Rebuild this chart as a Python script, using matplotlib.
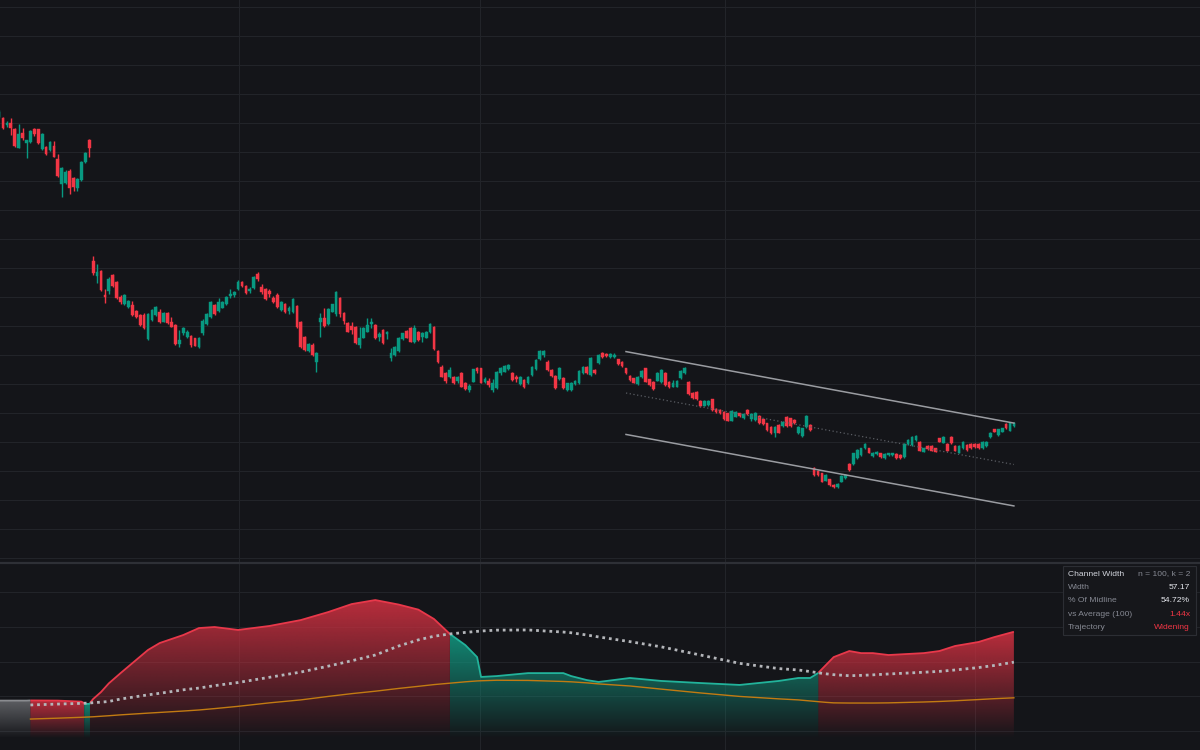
import numpy as np
import matplotlib
matplotlib.use("Agg")
import matplotlib.pyplot as plt
from matplotlib.patches import PathPatch, Rectangle
from matplotlib.lines import Line2D
from matplotlib.colors import to_rgb

# ---------------- data ----------------
opens = [344.1, 343.8, 338.7, 339.9, 336.0, 323.1, 333.0, 326.1, 326.8, 336.3,
         335.8, 322.2, 323.8, 321.5, 324.5, 315.3, 297.8, 298.5, 307.2, 302.0,
         295.5, 300.8, 313.4, 328.4, 245.1, 234.6, 238.0, 221.4, 224.4, 235.3,
         230.6, 219.9, 215.0, 213.0, 214.5, 210.4, 207.6, 207.6, 190.9, 204.2,
         207.6, 209.9, 203.0, 209.2, 203.0, 200.8, 187.6, 195.4, 192.3, 193.2,
         191.6, 185.8, 195.0, 201.2, 206.5, 214.5, 210.4, 212.7, 215.0, 220.8,
         221.4, 225.6, 230.6, 227.9, 224.2, 226.1, 235.7, 227.2, 225.6, 224.2,
         219.6, 221.4, 211.1, 215.0, 210.4, 209.5, 214.1, 202.6, 192.7, 182.8,
         187.0, 175.4, 203.0, 205.4, 201.2, 209.9, 208.1, 219.6, 208.8, 201.9,
         200.3, 199.6, 187.0, 192.0, 196.1, 201.2, 200.8, 192.7, 197.3, 194.3,
         178.2, 180.05, 182.8, 191.1, 196.6, 198.9, 188.8, 196.1, 192.7, 192.0,
         196.1, 199.6, 182.8, 172.0, 167.4, 164.7, 164.7, 162.3, 167.4, 160.5,
         155.9, 161.6, 170.9, 170.9, 161.6, 162.3, 155.9, 157.1, 167.4, 168.5,
         170.4, 167.4, 165.1, 160.0, 162.8, 160.5, 166.3, 170.2, 177.1, 180.05,
         175.4, 169.7, 165.6, 163.5, 164.2, 155.9, 155.9, 160.0, 160.9, 167.4,
         172.0, 166.3, 169.7, 174.5, 181.6, 180.7, 178.5, 178.7, 177.1, 175.4,
         170.9, 165.6, 164.0, 160.0, 164.7, 170.9, 163.3, 161.6, 162.3, 161.4,
         167.8, 161.6, 158.2, 158.2, 164.0, 167.4, 161.6, 154.0, 154.7, 148.5,
         145.1, 145.5, 149.5, 142.6, 142.1, 140.9, 139.8, 134.7, 137.5, 139.8,
         136.4, 142.1, 135.7, 135.2, 138.0, 135.7, 132.9, 130.2, 126.5, 131.8,
         131.1, 137.5, 136.4, 135.2, 126.0, 124.2, 130.2, 131.8, 101.9, 100.2,
         98.4, 93.3, 94.3, 90.35, 88.8, 92.6, 95.0, 104.8, 104.8, 108.8,
         111.05, 115.7, 115.7, 110.4, 111.7, 112.2, 108.8, 110.8, 110.9, 111.7,
         111.05, 109.5, 118.6, 118.0, 121.4, 120.2, 113.3, 117.3, 117.3, 115.7,
         122.6, 119.5, 118.6, 123.3, 117.3, 112.6, 115.7, 117.95, 118.6, 118.6,
         118.6, 115.7, 117.3, 123.3, 128.8, 124.9, 127.1, 132.4, 127.8, 131.06]
highs = [349.1, 344.3, 341.5, 343.4, 336.5, 339.2, 336.9, 328.6, 335.0, 337.0,
         336.3, 333.0, 324.3, 327.6, 327.7, 318.7, 309.8, 307.7, 308.4, 302.9,
         302.2, 313.9, 320.1, 328.8, 248.4, 242.8, 238.7, 225.6, 233.7, 235.8,
         231.2, 221.4, 222.0, 218.0, 217.5, 211.1, 208.3, 208.8, 209.0, 211.8,
         213.9, 211.6, 209.8, 209.8, 206.5, 201.3, 197.3, 199.2, 197.3, 193.9,
         192.1, 192.3, 204.9, 208.8, 217.5, 215.2, 219.6, 217.3, 220.9, 225.6,
         224.2, 231.8, 231.1, 228.4, 227.2, 234.8, 237.1, 228.8, 226.3, 225.6,
         221.0, 222.6, 217.0, 215.6, 214.1, 219.2, 214.6, 203.2, 193.3, 188.0,
         188.1, 181.8, 208.8, 212.3, 212.5, 215.2, 224.2, 220.3, 209.5, 202.6,
         203.0, 200.2, 199.6, 199.5, 205.8, 205.8, 201.5, 195.7, 198.0, 196.6,
         184.7, 186.3, 192.5, 195.3, 197.3, 199.6, 200.8, 196.6, 196.1, 196.6,
         201.9, 200.3, 183.3, 173.2, 168.5, 171.6, 165.3, 165.6, 168.0, 161.1,
         160.0, 170.7, 171.6, 171.4, 165.1, 164.0, 163.3, 169.1, 171.6, 173.1,
         174.0, 168.0, 166.3, 165.3, 163.4, 165.3, 172.2, 177.2, 183.5, 183.5,
         176.6, 170.2, 166.1, 171.6, 164.8, 161.0, 161.5, 163.0, 169.8, 172.2,
         172.6, 178.4, 170.5, 180.7, 182.3, 181.4, 181.4, 181.2, 177.6, 176.1,
         171.4, 166.3, 164.5, 165.6, 169.8, 171.4, 163.8, 162.1, 168.0, 170.5,
         168.4, 162.1, 162.8, 162.8, 169.8, 171.6, 162.1, 154.5, 155.2, 149.0,
         148.8, 149.1, 150.0, 143.3, 142.6, 141.4, 140.3, 142.1, 141.4, 140.3,
         139.8, 142.6, 140.2, 140.7, 138.5, 136.2, 133.4, 130.7, 130.7, 132.3,
         134.5, 138.0, 136.9, 135.7, 130.7, 130.0, 138.5, 132.2, 103.0, 100.7,
         98.9, 97.8, 94.8, 91.0, 91.5, 97.1, 97.8, 105.3, 112.7, 115.0,
         116.2, 119.4, 116.2, 113.1, 113.8, 112.7, 112.2, 112.7, 112.7, 112.2,
         111.6, 119.1, 121.9, 124.2, 124.7, 120.7, 116.2, 117.8, 117.8, 116.2,
         123.1, 123.8, 119.1, 124.3, 117.8, 117.8, 120.7, 118.5, 119.1, 119.1,
         119.1, 120.7, 120.7, 126.9, 129.3, 129.3, 130.0, 132.9, 133.8, 133.8]
lows = [343.6, 336.0, 337.4, 331.8, 323.8, 322.9, 328.4, 315.8, 326.3, 331.5,
        325.5, 321.5, 318.0, 321.0, 316.7, 303.1, 289.3, 298.0, 290.9, 293.2,
        293.2, 300.1, 312.5, 316.9, 235.3, 229.9, 224.4, 216.1, 222.1, 227.2,
        218.6, 215.2, 214.5, 212.5, 207.1, 205.4, 200.1, 197.8, 190.4, 203.5,
        206.9, 202.3, 202.5, 201.4, 199.2, 187.1, 185.8, 193.9, 191.6, 185.8,
        186.0, 185.2, 193.9, 200.6, 205.9, 207.4, 209.8, 212.3, 214.5, 219.2,
        219.9, 224.9, 227.2, 222.0, 222.6, 225.5, 231.1, 221.9, 218.1, 219.9,
        215.7, 212.7, 210.5, 209.3, 208.1, 209.0, 198.9, 185.2, 183.0, 182.3,
        179.6, 168.5, 192.7, 199.6, 200.6, 209.5, 207.2, 206.5, 201.2, 195.7,
        194.3, 187.5, 185.1, 191.5, 195.9, 198.5, 191.4, 189.7, 187.5, 191.1,
        175.9, 179.5, 182.3, 190.4, 191.6, 188.8, 188.1, 189.7, 188.8, 191.5,
        195.0, 183.7, 174.8, 164.7, 160.9, 164.0, 160.0, 160.5, 157.7, 155.9,
        154.7, 161.1, 167.4, 160.4, 160.5, 158.2, 154.7, 156.6, 166.3, 168.0,
        169.6, 162.3, 161.6, 159.4, 157.1, 160.0, 165.8, 169.7, 176.6, 178.9,
        169.2, 165.1, 156.8, 163.0, 156.6, 155.4, 155.5, 159.5, 160.3, 166.8,
        166.8, 165.8, 166.8, 174.0, 177.8, 178.5, 178.0, 177.8, 173.3, 172.0,
        166.8, 162.3, 160.4, 159.5, 164.2, 161.1, 158.9, 155.9, 161.8, 160.8,
        158.9, 157.3, 157.8, 157.7, 163.5, 166.8, 152.6, 149.7, 149.0, 144.4,
        144.6, 145.0, 141.6, 139.8, 139.3, 135.2, 134.2, 134.2, 137.0, 137.5,
        135.9, 138.8, 134.7, 134.7, 132.4, 131.9, 127.8, 125.5, 123.6, 125.9,
        130.6, 130.6, 130.6, 132.4, 125.5, 123.7, 129.7, 127.8, 96.6, 96.7,
        92.1, 92.8, 89.9, 88.1, 88.3, 92.1, 94.5, 100.2, 104.3, 108.3,
        110.6, 115.2, 112.1, 109.9, 111.2, 109.0, 108.3, 110.3, 110.4, 108.3,
        108.3, 109.0, 118.1, 117.5, 120.9, 113.5, 112.8, 114.5, 113.5, 112.8,
        119.7, 119.0, 113.5, 118.6, 113.5, 112.1, 115.2, 114.0, 115.2, 115.9,
        115.2, 115.2, 116.8, 122.8, 126.6, 124.4, 126.6, 129.0, 127.3, 130.6]
closes = [347.9, 336.5, 340.3, 336.5, 324.5, 332.3, 329.6, 328.4, 334.6, 332.5,
          326.1, 332.3, 318.5, 327.2, 316.9, 303.6, 309.3, 306.5, 295.1, 296.2,
          301.5, 313.4, 319.2, 322.7, 236.4, 237.5, 224.9, 220.1, 232.3, 227.7,
          219.2, 216.8, 221.4, 217.5, 207.6, 206.5, 200.8, 198.5, 208.1, 211.1,
          213.0, 203.0, 209.2, 201.9, 199.6, 187.6, 190.4, 198.5, 196.1, 187.0,
          186.5, 191.6, 203.7, 208.1, 216.8, 208.1, 216.8, 216.8, 220.3, 221.9,
          223.7, 230.6, 227.9, 222.6, 225.6, 234.1, 232.5, 223.3, 218.7, 221.9,
          216.8, 213.4, 216.4, 209.9, 212.7, 218.5, 199.6, 185.8, 183.5, 187.4,
          180.05, 181.2, 205.8, 200.3, 211.8, 215.0, 223.7, 208.1, 203.5, 196.1,
          197.3, 188.1, 191.6, 198.9, 200.8, 202.6, 192.0, 194.3, 188.1, 196.1,
          181.2, 185.8, 192.0, 195.0, 192.0, 189.2, 198.9, 190.4, 195.0, 196.1,
          201.2, 184.2, 175.4, 165.1, 162.3, 169.7, 160.5, 164.7, 158.2, 156.4,
          158.7, 170.2, 169.2, 160.9, 163.3, 159.4, 160.9, 168.5, 170.9, 172.5,
          173.2, 162.8, 163.3, 164.7, 158.2, 164.7, 171.6, 176.6, 183.0, 183.0,
          169.7, 165.6, 157.3, 171.1, 157.3, 160.5, 161.0, 162.3, 169.2, 171.6,
          167.4, 177.8, 167.4, 180.05, 178.9, 179.4, 180.7, 180.3, 173.8, 172.5,
          167.4, 162.8, 160.9, 165.1, 169.2, 161.6, 159.4, 156.4, 167.4, 169.7,
          159.4, 157.8, 160.9, 162.3, 169.2, 170.9, 153.1, 150.2, 149.5, 144.9,
          148.3, 148.6, 142.1, 141.0, 139.8, 135.7, 134.7, 141.6, 140.9, 138.0,
          139.3, 139.3, 139.3, 140.2, 132.9, 132.4, 128.3, 126.0, 130.2, 126.4,
          134.0, 131.1, 131.1, 132.9, 130.2, 129.5, 138.0, 128.3, 97.25, 97.25,
          92.6, 97.25, 90.35, 89.2, 91.0, 96.6, 97.25, 100.7, 112.2, 114.5,
          115.7, 118.6, 112.6, 112.6, 113.3, 109.5, 111.7, 112.2, 112.2, 108.8,
          108.8, 118.6, 121.4, 123.7, 124.2, 114.0, 115.7, 115.0, 114.0, 113.3,
          120.2, 123.3, 114.0, 119.1, 114.0, 117.3, 120.2, 114.5, 115.7, 116.4,
          115.7, 120.2, 120.2, 126.4, 127.1, 128.8, 129.5, 129.5, 133.3, 133.3]

# regression channel over the last 100 bars (n = 100, k = 2)
channel_bars = [160, 259]
channel_mid = [153.8, 104.48]
channel_width = 57.17

# quarter boundaries (vertical grid)
quarter_bars = [61.2, 122.7, 185.3, 249.1]

# channel-width indicator (lower pane), sampled at bar indices
ind_bars = [0, 7, 8, 15, 21, 22, 23, 24, 26, 28, 31, 38, 41, 47, 51, 55, 61, 69,
            77, 84, 90, 96, 102, 107, 111, 115, 119, 122, 123, 127, 135, 144,
            146, 150, 153, 161, 169, 179, 189, 199, 204, 207, 209, 211, 213,
            217, 220, 223, 227, 236, 240, 244, 250, 254, 259]
width_vals = [17.6, 17.6, 17.7, 17.6, 17.0, 15.7, 15.7, 18.5, 22.5, 27.5, 33.4,
              46.7, 50.7, 55.3, 59.3, 59.9, 58.2, 60.5, 63.9, 68.5, 73.1, 75.4,
              72.8, 69.9, 64.5, 56.0, 49.5, 42.6, 31.2, 31.7, 33.4, 33.4, 31.7,
              29.4, 28.3, 30.6, 28.9, 27.7, 26.6, 28.9, 30.6, 30.6, 33.4, 38.0,
              42.6, 46.1, 44.9, 44.9, 43.8, 44.9, 46.1, 49.0, 51.3, 54.1, 57.17]
avg_vals = [np.nan, np.nan, 15.1, 15.6, 16.0, 16.1, 16.2, 16.4, 16.7, 17.1, 18.5,
            20.9, 21.8, 23.8, 24.8, 26.2, 28.0, 31.0, 34.0, 37.4, 40.5, 43.8,
            49.0, 52.5, 54.6, 55.9, 56.8, 57.4, 57.6, 58.1, 58.2, 57.0, 56.6,
            55.3, 54.2, 51.5, 48.5, 43.8, 39.0, 36.0, 35.2, 34.3, 33.6, 33.0,
            32.5, 31.9, 32.1, 32.4, 32.9, 33.9, 34.4, 35.2, 36.6, 37.8, 39.7]
floor_vals = [np.nan, np.nan, 7.0, 7.5, 8.0, 8.1, 8.2, 8.3, 8.6, 8.9, 9.4, 10.4,
              10.8, 11.6, 12.2, 13.0, 14.3, 16.3, 18.0, 20.0, 21.6, 23.0, 24.6,
              25.8, 26.8, 27.6, 28.4, 28.9, 29.0, 29.3, 29.2, 28.6, 28.4, 27.8,
              27.2, 26.0, 24.2, 22.0, 20.0, 18.6, 18.0, 17.4, 17.0, 16.6, 16.3,
              16.2, 16.2, 16.2, 16.3, 16.8, 17.1, 17.5, 18.2, 18.7, 19.2]

table_rows = [("Channel Width", "n = 100, k = 2"),
              ("Width", "57.17"),
              ("% Of Midline", "54.72%"),
              ("vs Average (100)", "1.44x"),
              ("Trajectory", "Widening")]

# ---------------- style ----------------
BG = "#141519"
GRID = "#222429"
UP = "#089981"
DOWN = "#f23645"
FONT = ["Liberation Sans", "DejaVu Sans"]

W, H = 1200, 750
fig = plt.figure(figsize=(12, 7.5), dpi=100, facecolor=BG)
ax = fig.add_axes([0, 1 - 562 / H, 1, 562 / H], facecolor=BG)
ax2 = fig.add_axes([0, 0, 1, 187 / H], facecolor=BG, sharex=ax)

for a in (ax, ax2):
    for s in a.spines.values():
        s.set_visible(False)
    a.tick_params(length=0, labelleft=False, labelbottom=False)
    a.set_xticks(quarter_bars)
    a.grid(True, color=GRID, lw=0.8)
    a.set_axisbelow(True)

# ---------------- candles ----------------
o = np.array(opens); h = np.array(highs); l = np.array(lows); c = np.array(closes)
n = len(o)
xb = np.arange(n)
cols = np.where(c >= o, UP, DOWN)
ax.vlines(xb, l, h, colors=cols, lw=1.0, zorder=3)
bottom = np.minimum(o, c)
height = np.maximum(np.abs(c - o), 0.9)
ax.bar(xb, height, bottom=bottom, width=0.7, color=cols, edgecolor=cols,
       linewidth=0.3, zorder=4)

# regression channel
cm = np.array(channel_mid)
half = channel_width / 2
ax.plot(channel_bars, cm + half, color="#9a9ca1", lw=1.1, zorder=5)
ax.plot(channel_bars, cm - half, color="#9a9ca1", lw=1.1, zorder=5)
ax.plot(channel_bars, cm, color="#5a5d63", lw=0.9, ls=(0, (1, 2)), zorder=5)

ax.set_yticks(np.arange(40, 421, 20))
ax.set_ylim(37.2, 425.0)
ax.set_xlim(0.23, 306.5)

# ---------------- indicator pane ----------------
bx = np.array(ind_bars, float)
wv = np.array(width_vals)
av = np.array(avg_vals)
fv = np.array(floor_vals)

# insert crossing points of width vs average so colours switch exactly there
xs, ws, as_ = [bx[0]], [wv[0]], [av[0]]
for i in range(len(bx) - 1):
    d0 = wv[i] - av[i]
    d1 = wv[i + 1] - av[i + 1]
    if np.isfinite(d0) and np.isfinite(d1) and d0 * d1 < 0:
        t = d0 / (d0 - d1)
        xc = bx[i] + t * (bx[i + 1] - bx[i])
        wc = wv[i] + t * (wv[i + 1] - wv[i])
        xs.append(xc); ws.append(wc); as_.append(wc)
    xs.append(bx[i + 1]); ws.append(wv[i + 1]); as_.append(av[i + 1])
xs = np.array(xs); ws = np.array(ws); as_ = np.array(as_)

BASE = -4.0
finite = np.isfinite(as_)
first_fin = np.argmax(finite)
gray_mask = ~finite
gray_mask[first_fin] = True
red_mask = finite & (ws >= as_)
teal_mask = finite & (ws <= as_)


def gradient_region(mask, color, edge, a_top=0.9, power=0.95):
    coll = ax2.fill_between(xs, ws, BASE, where=mask, facecolor="none",
                            edgecolor="none")
    rgb = to_rgb(color)
    for path in coll.get_paths():
        v = path.vertices
        if len(v) < 3:
            continue
        x0, x1 = v[:, 0].min(), v[:, 0].max()
        ytop = v[:, 1].max()
        t = np.linspace(1, 0, 256) ** power
        img = np.zeros((256, 1, 4))
        img[..., 0], img[..., 1], img[..., 2] = rgb
        img[:, 0, 3] = a_top * t
        im = ax2.imshow(img, extent=[x0, x1, BASE, ytop], origin="upper",
                        aspect="auto", zorder=2, interpolation="bilinear")
        patch = PathPatch(path, transform=ax2.transData, facecolor="none",
                          edgecolor="none")
        ax2.add_patch(patch)
        im.set_clip_path(patch)
        top = v[v[:, 1] > BASE + 1e-6]
        top = top[np.argsort(top[:, 0], kind="stable")]
        ax2.plot(top[:, 0], top[:, 1], color=edge, lw=1.3, zorder=3,
                 solid_capstyle="butt")
    coll.remove()


gradient_region(gray_mask, "#76787c", "#8a8c90", a_top=0.75)
gradient_region(red_mask, "#cc3040", "#e8384a")
gradient_region(teal_mask, "#12967f", "#22b39b")

ax2.plot(bx, fv, color="#c27b12", lw=1.0, zorder=4)
ax2.plot(bx, av, color="#b4b6ba", lw=2.0, ls=(0, (1, 1.4)), zorder=5)

ax2.set_yticks([0, 20, 40, 60, 80])
ax2.set_ylim(-10.8, 96.7)
ax2.set_xlim(0.23, 306.5)

# pane separator
fig.add_artist(Line2D([0, 1], [1 - 562.5 / H] * 2, color="#2e3036", lw=1.6))

# ---------------- info table ----------------
bx0, bx1, by0, by1 = 1062.5, 1195.5, 566, 635
fig.add_artist(Rectangle((bx0 / W, 1 - by1 / H), (bx1 - bx0) / W, (by1 - by0) / H,
                         transform=fig.transFigure, facecolor="#16171b",
                         edgecolor="#2c2e34", lw=0.8, zorder=10))
row_y = [574, 587.3, 600.7, 614, 627.3]
for i, ((lab, val), yy) in enumerate(zip(table_rows, row_y)):
    lc = "#d1d4dc" if i == 0 else "#868993"
    if i == 0:
        vc = "#868993"
    elif i >= 3:
        vc = DOWN
    else:
        vc = "#e6e8ee"
    fig.text(1067.5 / W, 1 - yy / H, lab, color=lc, fontsize=6.1, family=FONT,
             ha="left", va="center", zorder=11)
    fig.text(1190 / W, 1 - yy / H, val, color=vc, fontsize=6.1, family=FONT,
             ha="right", va="center", zorder=11)

fig.savefig("out.png", dpi=100, facecolor=BG)
